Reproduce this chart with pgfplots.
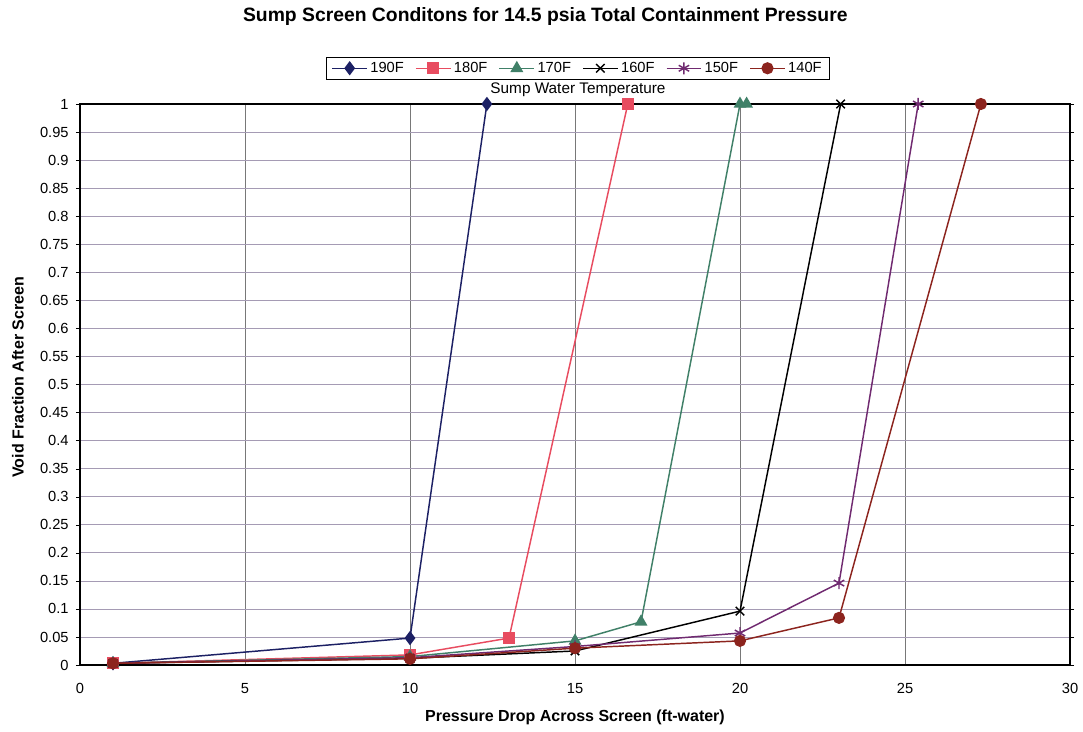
\documentclass[border=0pt]{standalone}
\usepackage{fontspec}
\setmainfont{Liberation Sans}
\usepackage{pgfplots}
\pgfplotsset{compat=1.18}
\definecolor{c190}{RGB}{28,32,100}
\definecolor{c180}{RGB}{232,76,96}
\definecolor{c170}{RGB}{64,128,104}
\definecolor{c160}{RGB}{0,0,0}
\definecolor{c150}{RGB}{112,42,112}
\definecolor{c140}{RGB}{140,36,30}
\definecolor{hgrid}{RGB}{165,155,180}
\definecolor{vgrid}{RGB}{120,120,120}
\begin{document}
\begin{tikzpicture}
\begin{axis}[
  scale only axis,
  width=742.5pt, height=420.75pt,
  xmin=0, xmax=30, ymin=0, ymax=1,
  xtick={0,5,...,30},
  ytick={0,0.05,...,1.001},
  /pgf/number format/assume math mode=true,
  /pgf/number format/fixed,
  /pgf/number format/precision=2,
  tick label style={font=\fontsize{11}{13}\selectfont},
  xticklabel style={yshift=-7pt},
  yticklabel style={xshift=-2pt},
  tick align=outside,
  major tick length=3pt,
  xtick style={draw=none},
  ytick style={black},
  xmajorgrids, ymajorgrids,
  x grid style={vgrid, line width=0.6pt},
  y grid style={hgrid, line width=0.5pt},
  axis line style={black, line width=0.8pt},
  legend columns=6,
  legend style={at={(0.503,1)}, anchor=south, yshift=18.5pt, draw=black, fill=white,
    font=\fontsize{11}{13}\selectfont, inner xsep=4pt, inner ysep=1.5pt,
    /tikz/every even column/.append style={column sep=6.5pt}},
  legend image code/.code={\draw[mark repeat=2,mark phase=2] plot coordinates {(0pt,0pt) (13pt,0pt) (26pt,0pt)};},
  every axis plot/.append style={line width=1.1pt},
  clip=false,
]
\addplot[c190, mark=diamond*, mark size=4.5pt, mark options={fill=c190}] coordinates {(1,0.003) (10,0.048) (12.33,1)};
\addlegendentry{190F}
\addplot[c180, mark=square*, mark size=4pt, mark options={fill=c180}] coordinates {(1,0.003) (10,0.018) (13,0.048) (16.6,1)};
\addlegendentry{180F}
\addplot[c170, mark=triangle*, mark size=4.5pt, mark options={fill=c170}] coordinates {(1,0.003) (10,0.015) (15,0.043) (17,0.077) (20,1) (20.2,1)};
\addlegendentry{170F}
\addplot[c160, mark=x, mark size=4.5pt] coordinates {(1,0.003) (10,0.012) (15,0.025) (20,0.096) (23.05,1)};
\addlegendentry{160F}
\addplot[c150, mark=asterisk, mark size=4.5pt] coordinates {(1,0.003) (10,0.013) (15,0.033) (20,0.057) (23,0.146) (25.4,1)};
\addlegendentry{150F}
\addplot[c140, mark=*, mark size=4pt, mark options={fill=c140}] coordinates {(1,0.003) (10,0.011) (15,0.030) (20,0.043) (23,0.084) (27.3,1)};
\addlegendentry{140F}
\coordinate (bl) at (rel axis cs:0,0);
\coordinate (tr) at (rel axis cs:1,1);
\node[font=\fontsize{14.5}{16}\selectfont\bfseries] at ([yshift=65.25pt]rel axis cs:0.47,1) {Sump Screen Conditons for 14.5 psia Total Containment Pressure};
\node[font=\fontsize{11.5}{13}\selectfont] at ([yshift=10.5pt]rel axis cs:0.503,1) {Sump Water Temperature};
\node[font=\fontsize{12}{14}\selectfont\bfseries] at ([yshift=-39pt]rel axis cs:0.5,0) {Pressure Drop Across Screen (ft-water)};
\node[font=\fontsize{12}{14}\selectfont\bfseries, rotate=90] at ([xshift=-46.5pt]rel axis cs:0,0.513) {Void Fraction After Screen};
\end{axis}
\pgfresetboundingbox
\path ([xshift=-60pt,yshift=-49.5pt]bl) rectangle ([xshift=9.75pt,yshift=78pt]tr);
\end{tikzpicture}
\end{document}
